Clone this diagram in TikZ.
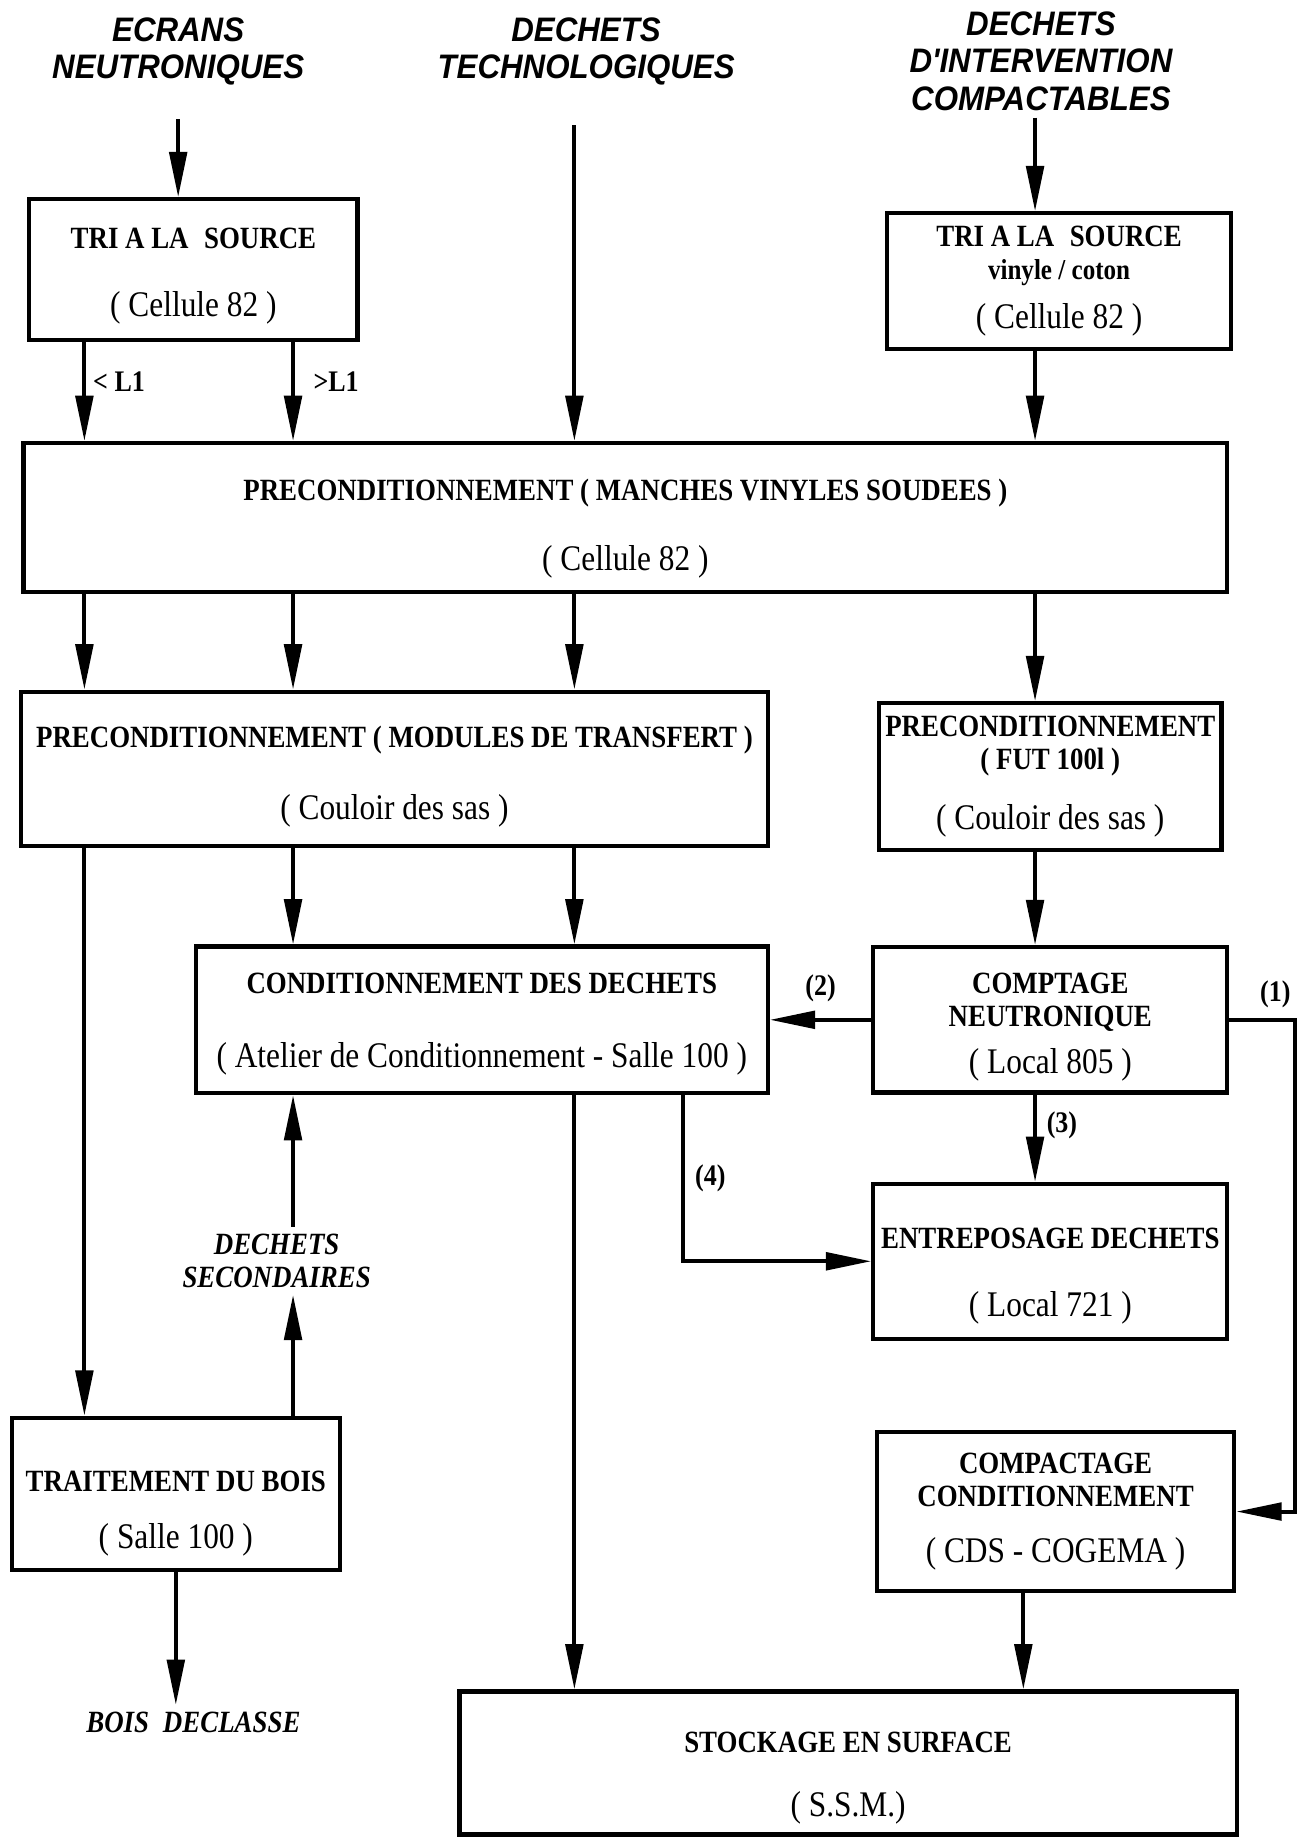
\documentclass[tikz,border=0pt]{standalone}
\usepackage{fontspec}
\setmainfont{Liberation Serif}
\newfontfamily\boxfont[FakeStretch=0.87]{Liberation Serif}
\newfontfamily\headfont[FakeStretch=0.92]{Liberation Sans}
\usetikzlibrary{positioning, arrows.meta}

\newcommand{\lieu}[1]{{\mdseries\fontsize{17.5}{16}\selectfont #1}}
\newcommand{\bas}[1]{\rule{0pt}{\dimexpr 10pt+#1\relax}}

\begin{document}
\begin{tikzpicture}[
        >={Triangle[length=22pt,width=8.5pt]},
        on grid,
        box/.style={draw, line width=2pt, align=center, inner sep=2pt,
            font=\boxfont\bfseries\fontsize{15}{16}\selectfont},
        entree/.style={align=center, font=\headfont\bfseries\itshape\fontsize{16.5}{18.2}\selectfont},
        sortie/.style={align=center, font=\boxfont\bfseries\itshape\fontsize{15}{16}\selectfont},
        flow/.style={->, line width=1.9pt},
        num/.style={font=\boxfont\bfseries\fontsize{14.5}{16}\selectfont}
    ]
    \path[fill=white, use as bounding box] (0,0) rectangle (22.14,-31.36);

    \node[box, minimum width=20.54cm, minimum height=2.54cm] (pre1) at (10.67,-8.83)
        {\bas{11pt}PRECONDITIONNEMENT ( MANCHES VINYLES SOUDEES )\\[18pt]\lieu{( Cellule 82 )}};
    \node[box, minimum width=5.60cm, minimum height=2.40cm, above left=4.23cm and 7.37cm of pre1] (tri1)
        {\bas{6pt}TRI A LA\hspace{0.5em}SOURCE\\[17pt]\lieu{( Cellule 82 )}};
    \node[box, minimum width=5.86cm, minimum height=2.32cm, above right=4.03cm and 7.40cm of pre1] (tri2)
        {TRI A LA\hspace{0.5em}SOURCE\\{\fontsize{14}{16}\selectfont vinyle / coton}\\[8pt]\lieu{( Cellule 82 )}};
    \node[box, minimum width=12.74cm, minimum height=2.64cm, below left=4.29cm and 3.94cm of pre1] (pre2)
        {\bas{8pt}PRECONDITIONNEMENT ( MODULES DE TRANSFERT )\\[19pt]\lieu{( Couloir des sas )}};
    \node[box, minimum width=5.84cm, minimum height=2.50cm, below right=4.42cm and 7.25cm of pre1] (pre3)
        {PRECONDITIONNEMENT\\( FUT 100l )\\[13pt]\lieu{( Couloir des sas )}};
    \node[box, minimum width=6.04cm, minimum height=2.48cm, below=4.15cm of pre3] (compt)
        {\bas{7pt}COMPTAGE\\NEUTRONIQUE\\[7pt]\lieu{( Local 805 )}};
    \node[box, minimum width=9.76cm, minimum height=2.50cm, left=9.70cm of compt] (cond)
        {\bas{4pt}CONDITIONNEMENT DES DECHETS\\[20pt]\lieu{( Atelier de Conditionnement - Salle 100 )}};
    \node[box, minimum width=6.04cm, minimum height=2.64cm, below=4.12cm of compt] (entre)
        {\bas{14pt}ENTREPOSAGE DECHETS\\[17pt]\lieu{( Local 721 )}};
    \node[box, minimum width=6.10cm, minimum height=2.70cm, below right=8.39cm and 0.09cm of compt] (compact)
        {COMPACTAGE\\CONDITIONNEMENT\\[11pt]\lieu{( CDS - COGEMA )}};
    \node[box, minimum width=13.26cm, minimum height=2.44cm, below left=4.29cm and 3.54cm of compact] (stock)
        {\bas{15pt}STOCKAGE EN SURFACE\\[15pt]\lieu{( S.S.M.)}};
    \node[box, minimum width=5.60cm, minimum height=2.60cm, below left=8.09cm and 5.22cm of cond] (trait)
        {\bas{19pt}TRAITEMENT DU BOIS\\[12pt]\lieu{( Salle 100 )}};

    % entrees et sorties
    \node[entree, above left=3.72cm and 0.26cm of tri1] (ecrans) {ECRANS\\NEUTRONIQUES};
    \node[entree, above left=7.95cm and 0.67cm of pre1] (techno) {DECHETS\\TECHNOLOGIQUES};
    \node[entree, above left=3.76cm and 0.31cm of tri2] (compactables) {DECHETS\\D'INTERVENTION\\COMPACTABLES};
    \node[sortie, below left=4.11cm and 3.50cm of cond] (seconds) {DECHETS\\SECONDAIRES};
    \node[sortie, below right=3.90cm and 0.30cm of trait] (bois) {BOIS\hspace{0.45em}DECLASSE};

    \coordinate (colA) at (1.44,0);
    \coordinate (colB) at (5.00,0);
    \coordinate (colC) at (9.80,0);
    \coordinate (colD) at (17.66,0);
    \coordinate (colE) at (11.66,0);

    \draw[flow, shorten <=0.45cm] (ecrans.south) -- (ecrans.south |- tri1.north);
    \draw[flow, shorten <=0.55cm] (colC |- techno.south) -- (colC |- pre1.north);
    \draw[flow] (colD |- compactables.south) -- (colD |- tri2.north);

    \draw[flow] (colA |- tri1.south) -- node[num, right, pos=0.4] {< L1} (colA |- pre1.north);
    \draw[flow] (colB |- tri1.south) -- node[num, right, pos=0.4, xshift=0.2cm] {>L1} (colB |- pre1.north);
    \draw[flow] (colD |- tri2.south) -- (colD |- pre1.north);

    \draw[flow] (colA |- pre1.south) -- (colA |- pre2.north);
    \draw[flow] (colB |- pre1.south) -- (colB |- pre2.north);
    \draw[flow] (colC |- pre1.south) -- (colC |- pre2.north);
    \draw[flow] (colD |- pre1.south) -- (colD |- pre3.north);

    \draw[flow] (colA |- pre2.south) -- (colA |- trait.north);
    \draw[flow] (colB |- pre2.south) -- (colB |- cond.north);
    \draw[flow] (colC |- pre2.south) -- (colC |- cond.north);
    \draw[flow] (colD |- pre3.south) -- (colD |- compt.north);

    \draw[flow] (compt.west) -- node[num, above, yshift=0.15cm] {(2)} (cond.east |- compt.west);
    \draw[flow] (compt.east) -- node[num, above, pos=0.7, yshift=0.05cm] {(1)} ++(1.12,0) |- (compact.east);
    \draw[flow] (colD |- compt.south) -- node[num, right, pos=0.35, xshift=0.05cm] {(3)} (colD |- entre.north);
    \draw[flow] (colE |- cond.south) |- node[num, right, pos=0.25, xshift=0.05cm] {(4)} (entre.west);
    \draw[flow] (colC |- cond.south) -- (colC |- stock.north);

    \draw[flow] (colB |- trait.north) -- (colB |- seconds.south);
    \draw[flow] (colB |- seconds.north) -- (colB |- cond.south);
    \draw[flow] (trait.south) -- (trait.south |- bois.north);
    \draw[flow] ([xshift=-0.55cm]compact.south) -- ([xshift=-0.55cm]compact.south |- stock.north);
\end{tikzpicture}
\end{document}
